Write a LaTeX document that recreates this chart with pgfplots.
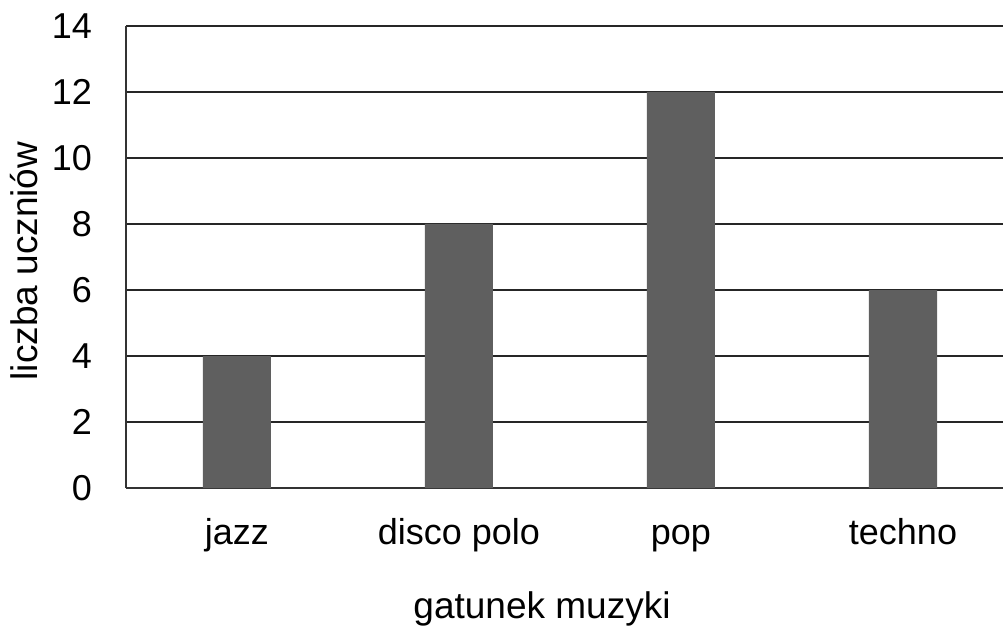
\documentclass[border=0pt]{standalone}
\usepackage{fontspec}
\setmainfont{Liberation Sans}
\usepackage{pgfplots}
\pgfplotsset{compat=1.18}
\definecolor{barc}{RGB}{95,95,95}

\begin{document}
\begin{tikzpicture}
\begin{axis}[
    scale only axis,
    width=877bp, height=462bp,
    at={(0,0)}, anchor=south west,
    ybar, bar width=68bp,
    xmin=-0.5, xmax=3.4505,
    ymin=0, ymax=14,
    ytick={0,2,...,14},
    xtick={0,1,2,3},
    xticklabels={jazz, disco polo, pop, techno},
    axis x line*=bottom, axis y line*=left,
    axis line style={-, line width=1.2bp, black!80},
    major tick length=0pt,
    ymajorgrids=true,
    grid style={line width=1.2bp, black!85},
    /pgf/number format/assume math mode=true,
    tick label style={font=\fontsize{36bp}{43bp}\selectfont},
    yticklabel style={anchor=east, inner sep=0pt, xshift=-34bp},
    xticklabel style={anchor=base, inner sep=0pt, yshift=-56bp},
    label style={font=\fontsize{37bp}{45bp}\selectfont},
    xlabel={gatunek muzyki},
    ylabel={liczba uczniów},
    xlabel style={at={(axis cs:-0.5,0)}, anchor=base, inner sep=0pt, xshift=416bp, yshift=-130bp},
    ylabel style={at={(axis cs:-0.5,6.88)}, anchor=base, inner sep=0pt, yshift=88bp},
    clip=false,
]
\addplot[fill=barc, draw=none] coordinates {(0,4) (1,8) (2,12) (3,6)};
\end{axis}
\pgfresetboundingbox
\path[use as bounding box] (-126bp,-139bp) rectangle (877bp,488bp);
\end{tikzpicture}
\end{document}
